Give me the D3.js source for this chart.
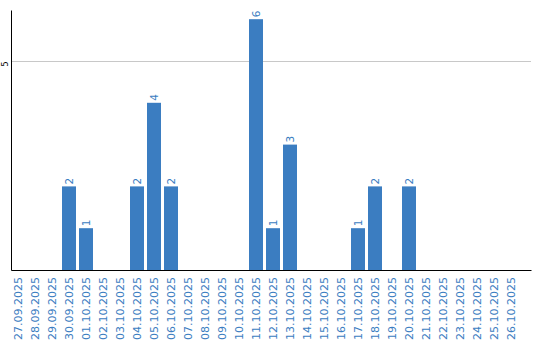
<!DOCTYPE html>
<html>
<head>
<meta charset="utf-8">
<script src="https://cdn.jsdelivr.net/npm/d3@7"></script>
<style>
    body { margin: 0; background: #fff; }
    svg { display: block; font-family: "DejaVu Sans", Verdana, sans-serif; }
</style>
</head>
<body>
<div id="chart"></div>
<script>
const dates = ["27.09.2025", "28.09.2025", "29.09.2025", "30.09.2025", "01.10.2025",
               "02.10.2025", "03.10.2025", "04.10.2025", "05.10.2025", "06.10.2025",
               "07.10.2025", "08.10.2025", "09.10.2025", "10.10.2025", "11.10.2025",
               "12.10.2025", "13.10.2025", "14.10.2025", "15.10.2025", "16.10.2025",
               "17.10.2025", "18.10.2025", "19.10.2025", "20.10.2025", "21.10.2025",
               "22.10.2025", "23.10.2025", "24.10.2025", "25.10.2025", "26.10.2025"];
const counts = [0, 0, 0, 2, 1, 0, 0, 2, 4, 2, 0, 0, 0, 0, 6, 1, 3, 0, 0, 0, 1, 2, 0, 2, 0, 0, 0, 0, 0, 0];
const yTicks = [5];

const WIDTH = 540;
const HEIGHT = 340;
const LEFT = 11;
const RIGHT = 531;
const TOP = 10;
const BOTTOM = 270;
const BLUE = "#3b7dc1";

const svg = d3.select("#chart")
              .append("svg")
              .attr("width", WIDTH)
              .attr("height", HEIGHT);

const x = d3.scaleBand()
            .domain(dates)
            .range([LEFT, RIGHT])
            .paddingInner(3 / 17)
            .paddingOuter(0.3824)
            .align(0);
const y = d3.scaleLinear()
            .domain([0, 6.22])
            .range([BOTTOM, TOP]);

// grid line
svg.append("g")
   .attr("class", "grid")
   .selectAll("line")
   .data(yTicks)
   .join("line")
   .attr("x1", LEFT)
   .attr("x2", RIGHT)
   .attr("y1", (d) => y(d) + 0.5)
   .attr("y2", (d) => y(d) + 0.5)
   .style("stroke", "#c8c8c8")
   .style("stroke-width", 1);

// bars
const data = dates.map((d, i) => ({ date: d, value: counts[i] })).filter((d) => d.value > 0);
svg.append("g")
   .attr("class", "bars")
   .selectAll("rect")
   .data(data)
   .join("rect")
   .attr("x", (d) => x(d.date))
   .attr("y", (d) => y(d.value))
   .attr("width", x.bandwidth())
   .attr("height", (d) => y(0) - y(d.value))
   .style("fill", BLUE);

// value labels
svg.append("g")
   .attr("class", "values")
   .selectAll("text")
   .data(data)
   .join("text")
   .attr("transform", (d) => "translate(" + (x(d.date) + x.bandwidth() / 2) + "," + (y(d.value) - 2) + ") rotate(-90)")
   .attr("dy", "0.35em")
   .style("text-anchor", "start")
   .style("font-size", "10.5px")
   .style("fill", BLUE)
   .text((d) => d.value);

// x axis
const xAxis = svg.append("g")
                 .attr("class", "x-axis")
                 .attr("transform", "translate(0," + BOTTOM + ")")
                 .call(d3.axisBottom(x).tickSize(0).tickSizeOuter(0));
xAxis.select(".domain").attr("stroke", "#000");
xAxis.selectAll("text")
     .attr("x", -7)
     .attr("y", 0)
     .attr("dy", "0.35em")
     .attr("transform", "rotate(-90)")
     .style("text-anchor", "end")
     .style("font-size", "11px")
     .style("font-family", "DejaVu Sans, sans-serif")
     .style("fill", BLUE);

// y axis
const yAxis = svg.append("g")
                 .attr("class", "y-axis")
                 .attr("transform", "translate(" + LEFT + ",0)")
                 .call(d3.axisLeft(y).tickValues(yTicks).tickFormat(d3.format("d")).tickSize(0).tickSizeOuter(0));
yAxis.select(".domain").attr("stroke", "#000");
yAxis.selectAll("text")
     .attr("x", 0)
     .attr("y", 0)
     .attr("dy", null)
     .attr("transform", "translate(-3.5,2.5) rotate(-90)")
     .style("text-anchor", "middle")
     .style("font-size", "8px")
     .style("font-family", "DejaVu Sans, sans-serif")
     .style("fill", "#000");
</script>
</body>
</html>
